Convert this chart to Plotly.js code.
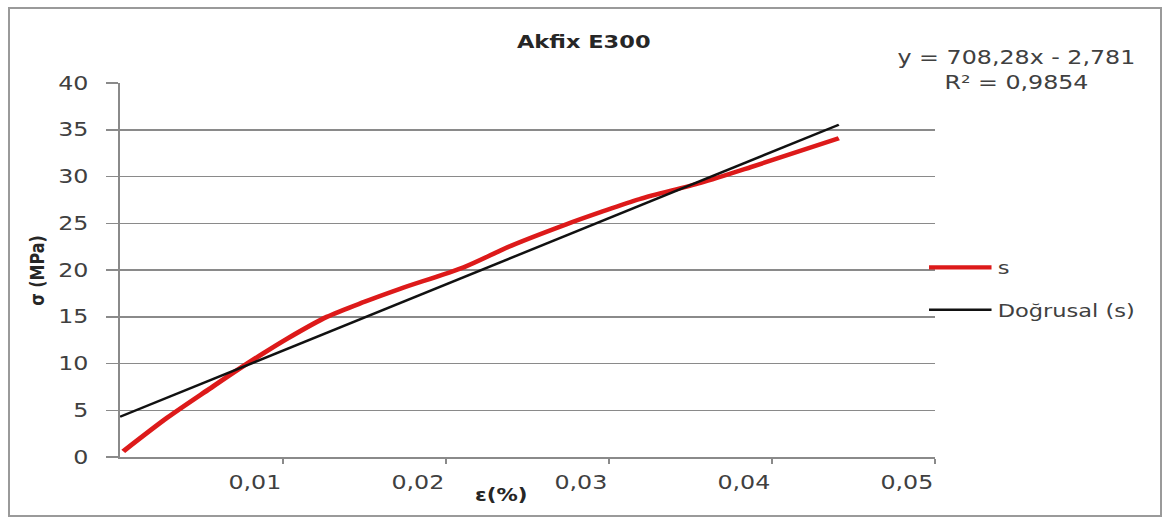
<!DOCTYPE html>
<html>
<head>
<meta charset="utf-8">
<script src="https://cdn.plot.ly/plotly-3.0.1.min.js"></script>
<style>
  html, body { margin: 0; padding: 0; background: #ffffff; overflow: hidden; }
  #frame { position: absolute; left: 8px; top: 7px; width: 1154px; height: 510px; border: 2px solid #9a9a9a; box-sizing: border-box; z-index: 5; pointer-events: none; background: transparent; }
  #wrap { position: absolute; left: 0; top: 0; width: 933px; height: 520px; transform: scaleX(1.25); transform-origin: 0 0; z-index: 1; }
  #chart { width: 933px; height: 520px; }
</style>
</head>
<body>
<div id="wrap"><div id="chart"></div></div>
<div id="frame"></div>
<script>
// Measured stress–strain curve for Akfix E300
const strain = [0.0002, 0.0029, 0.0055, 0.0072, 0.0088, 0.0102, 0.0127, 0.0150, 0.0172, 0.0211, 0.0240, 0.0274, 0.0295, 0.0319, 0.0356, 0.0387, 0.0441];
const stress = [0.6, 4.2, 7.3, 9.3, 11.1, 12.6, 15.0, 16.6, 18.0, 20.3, 22.6, 24.9, 26.2, 27.6, 29.3, 31.0, 34.1];

// Linear trendline (slope from the fitted equation, drawn over the data range)
const trendSlope = 708.28;
const trendStart = 4.3;
const trendX = [0, 0.0441];
const trendY = trendX.map(x => trendStart + trendSlope * x);

const xTicks = [0.01, 0.02, 0.03, 0.04, 0.05];
const yTicks = [0, 5, 10, 15, 20, 25, 30, 35, 40];

const equationText = 'y = 708,28x - 2,781<br>R² = 0,9854';
const titleText = 'Akfix E300';
const seriesName = 's';
const trendName = 'Doğrusal (s)';

const font = 'DejaVu Sans, Verdana, sans-serif';
const textColor = '#404040';
const gridColor = '#8a8a8a';

const traces = [
  {
    x: strain, y: stress, name: seriesName, mode: 'lines',
    line: { color: '#dd1a1a', width: 4.4, shape: 'spline', smoothing: 0.8 },
    legendgroup: 'a'
  },
  {
    x: trendX, y: trendY, name: trendName, mode: 'lines',
    line: { color: '#111111', width: 2.4 },
    legendgroup: 'b'
  }
];

const layout = {
  width: 933, height: 520,
  margin: { l: 96, r: 185, t: 83, b: 63, pad: 0 },
  paper_bgcolor: '#ffffff', plot_bgcolor: '#ffffff',
  separators: ',.',
  font: { family: font, size: 19, color: textColor },
  title: {
    text: '<b>' + titleText + '</b>',
    font: { family: font, size: 18, color: '#262626' },
    x: 0.569, xref: 'paper', xanchor: 'center',
    y: 0.919, yref: 'container', yanchor: 'middle'
  },
  xaxis: {
    range: [0, 0.05], tickvals: xTicks, tickformat: '.2f',
    showgrid: false, zeroline: false,
    showline: true, linecolor: gridColor, linewidth: 1.5,
    ticks: 'outside', ticklen: 5, tickcolor: gridColor, tickwidth: 1.2,
    ticklabelposition: 'outside left', ticklabelstandoff: 8,
    tickfont: { family: font, size: 19, color: textColor },
    fixedrange: true
  },
  yaxis: {
    range: [0, 40], tickvals: yTicks,
    showgrid: true, gridcolor: gridColor, gridwidth: 1.5,
    zeroline: false,
    showline: true, linecolor: gridColor, linewidth: 1.5,
    ticks: 'outside', ticklen: 10, tickcolor: gridColor, tickwidth: 1.5,
    ticklabelstandoff: 10,
    tickfont: { family: font, size: 19, color: textColor },
    fixedrange: true
  },
  showlegend: true,
  legend: {
    x: 0.985, xanchor: 'left', y: 0.45, yanchor: 'middle',
    font: { family: font, size: 18, color: textColor },
    bgcolor: 'rgba(0,0,0,0)', borderwidth: 0,
    itemwidth: 50, tracegroupgap: 16, traceorder: 'grouped'
  },
  annotations: [
    {
      text: equationText, xref: 'paper', yref: 'paper',
      x: 1.10, y: 1.035, xanchor: 'center', yanchor: 'middle',
      showarrow: false, align: 'center',
      font: { family: font, size: 19, color: textColor }
    },
    {
      text: '<b>σ (MPa)</b>', xref: 'paper', yref: 'paper',
      x: -0.103, y: 0.5, xanchor: 'center', yanchor: 'middle',
      textangle: -90, showarrow: false,
      font: { family: font, size: 16, color: '#262626' }
    },
    {
      text: '<b>ε(%)</b>', xref: 'paper', yref: 'paper',
      x: 0.4675, y: -0.102, xanchor: 'center', yanchor: 'middle',
      showarrow: false,
      font: { family: font, size: 17, color: '#262626' }
    }
  ]
};

Plotly.newPlot('chart', traces, layout, { displayModeBar: false, staticPlot: true });
</script>
</body>
</html>
